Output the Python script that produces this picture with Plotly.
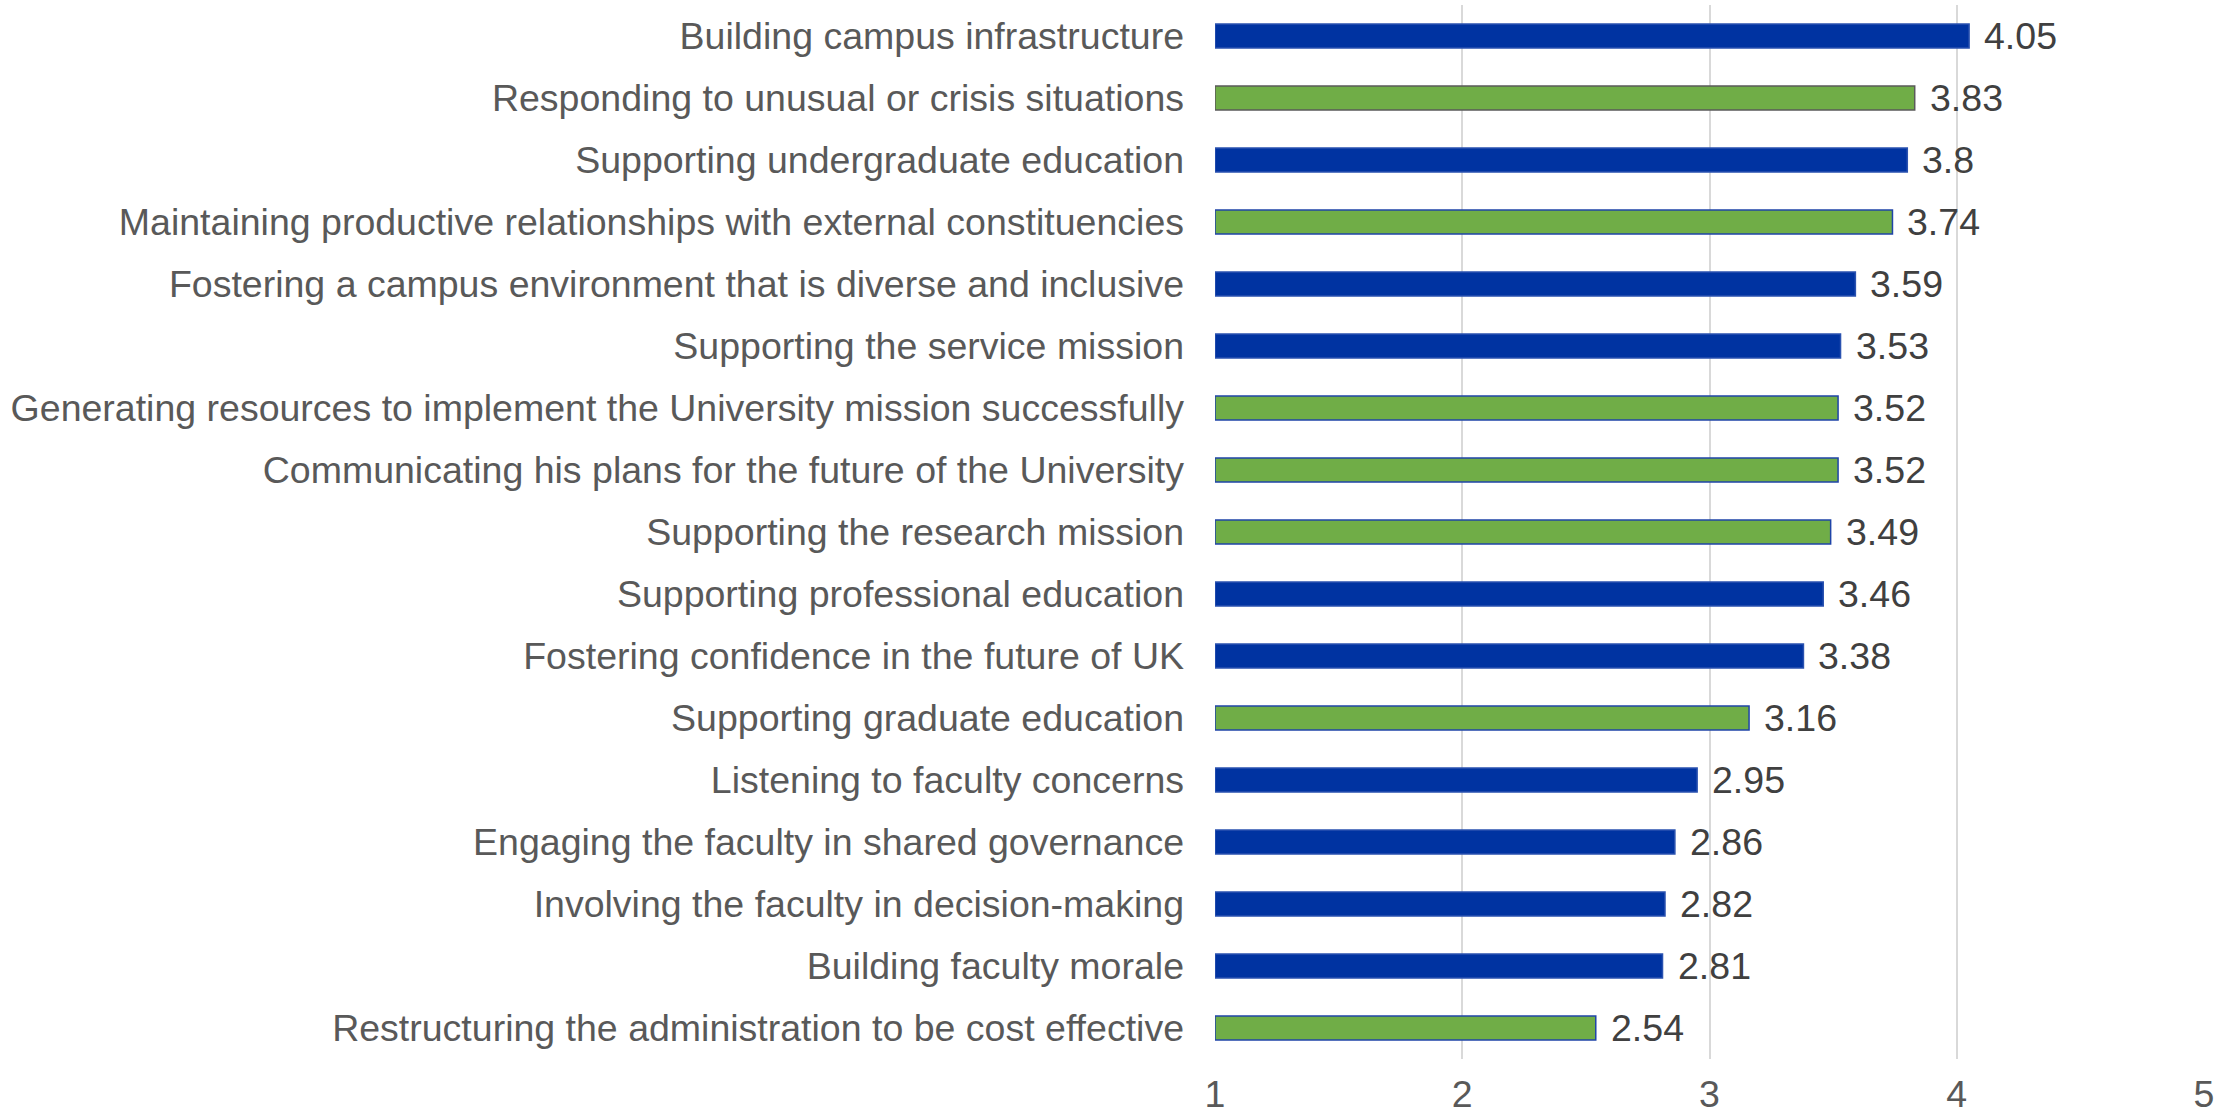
import plotly.graph_objects as go

# Survey items, top to bottom, with mean ratings on a 1-5 scale
categories = [
    "Building campus infrastructure",
    "Responding to unusual or crisis situations",
    "Supporting undergraduate education",
    "Maintaining productive relationships with external constituencies",
    "Fostering a campus environment that is diverse and inclusive",
    "Supporting the service mission",
    "Generating resources to implement the University mission successfully",
    "Communicating his plans for the future of the University",
    "Supporting the research mission",
    "Supporting professional education",
    "Fostering confidence in the future of UK",
    "Supporting graduate education",
    "Listening to faculty concerns",
    "Engaging the faculty in shared governance",
    "Involving the faculty in decision-making",
    "Building faculty morale",
    "Restructuring the administration to be cost effective",
]
values = [4.05, 3.83, 3.8, 3.74, 3.59, 3.53, 3.52, 3.52, 3.49, 3.46, 3.38, 3.16,
          2.95, 2.86, 2.82, 2.81, 2.54]
groups = ["B", "G", "B", "G", "B", "B", "G", "G", "G", "B", "B", "G",
          "B", "B", "B", "B", "G"]
tick_vals = [1, 2, 3, 4, 5]

BLUE = "#0033A1"
GREEN = "#70AD47"
FONT = "Liberation Sans, Arial"
SIZE = 37.5
fill = [BLUE if g == "B" else GREEN for g in groups]
edge = ["#2A52B0" if g == "B" else "#1F44A8" for g in groups]
edge[1] = "#5A5A5A"
base = 1

fig = go.Figure(
    go.Bar(
        y=categories,
        x=[v - base for v in values],
        base=base,
        orientation="h",
        width=0.39,
        marker=dict(color=fill, line=dict(color=edge, width=1.5)),
        hoverinfo="skip",
    )
)

for cat, v in zip(categories, values):
    fig.add_annotation(
        x=v, y=cat, text=f"{v:g}", showarrow=False,
        xanchor="left", yanchor="middle", xshift=13,
        font=dict(family=FONT, size=SIZE, color="#404040"),
    )

fig.update_layout(
    width=2234, height=1118,
    margin=dict(l=1215, r=30, t=5, b=59, autoexpand=False),
    plot_bgcolor="white", paper_bgcolor="white",
    showlegend=False,
    font=dict(family=FONT, size=SIZE, color="#595959"),
)
fig.update_xaxes(
    range=[1, 5], tickvals=tick_vals, ticktext=[str(t) for t in tick_vals],
    showgrid=True, gridcolor="#D9D9D9", gridwidth=1.5,
    zeroline=False, showline=False, ticks="", ticklabelstandoff=9,
    automargin=False,
    tickfont=dict(family=FONT, size=SIZE, color="#595959"),
)
fig.update_yaxes(
    categoryorder="array", categoryarray=categories, autorange=False,
    range=[16.5, -0.5], showgrid=False, zeroline=False, showline=False,
    ticks="", ticklabelstandoff=30, automargin=False,
    tickfont=dict(family=FONT, size=SIZE, color="#595959"),
)

fig.write_html("out.html")
